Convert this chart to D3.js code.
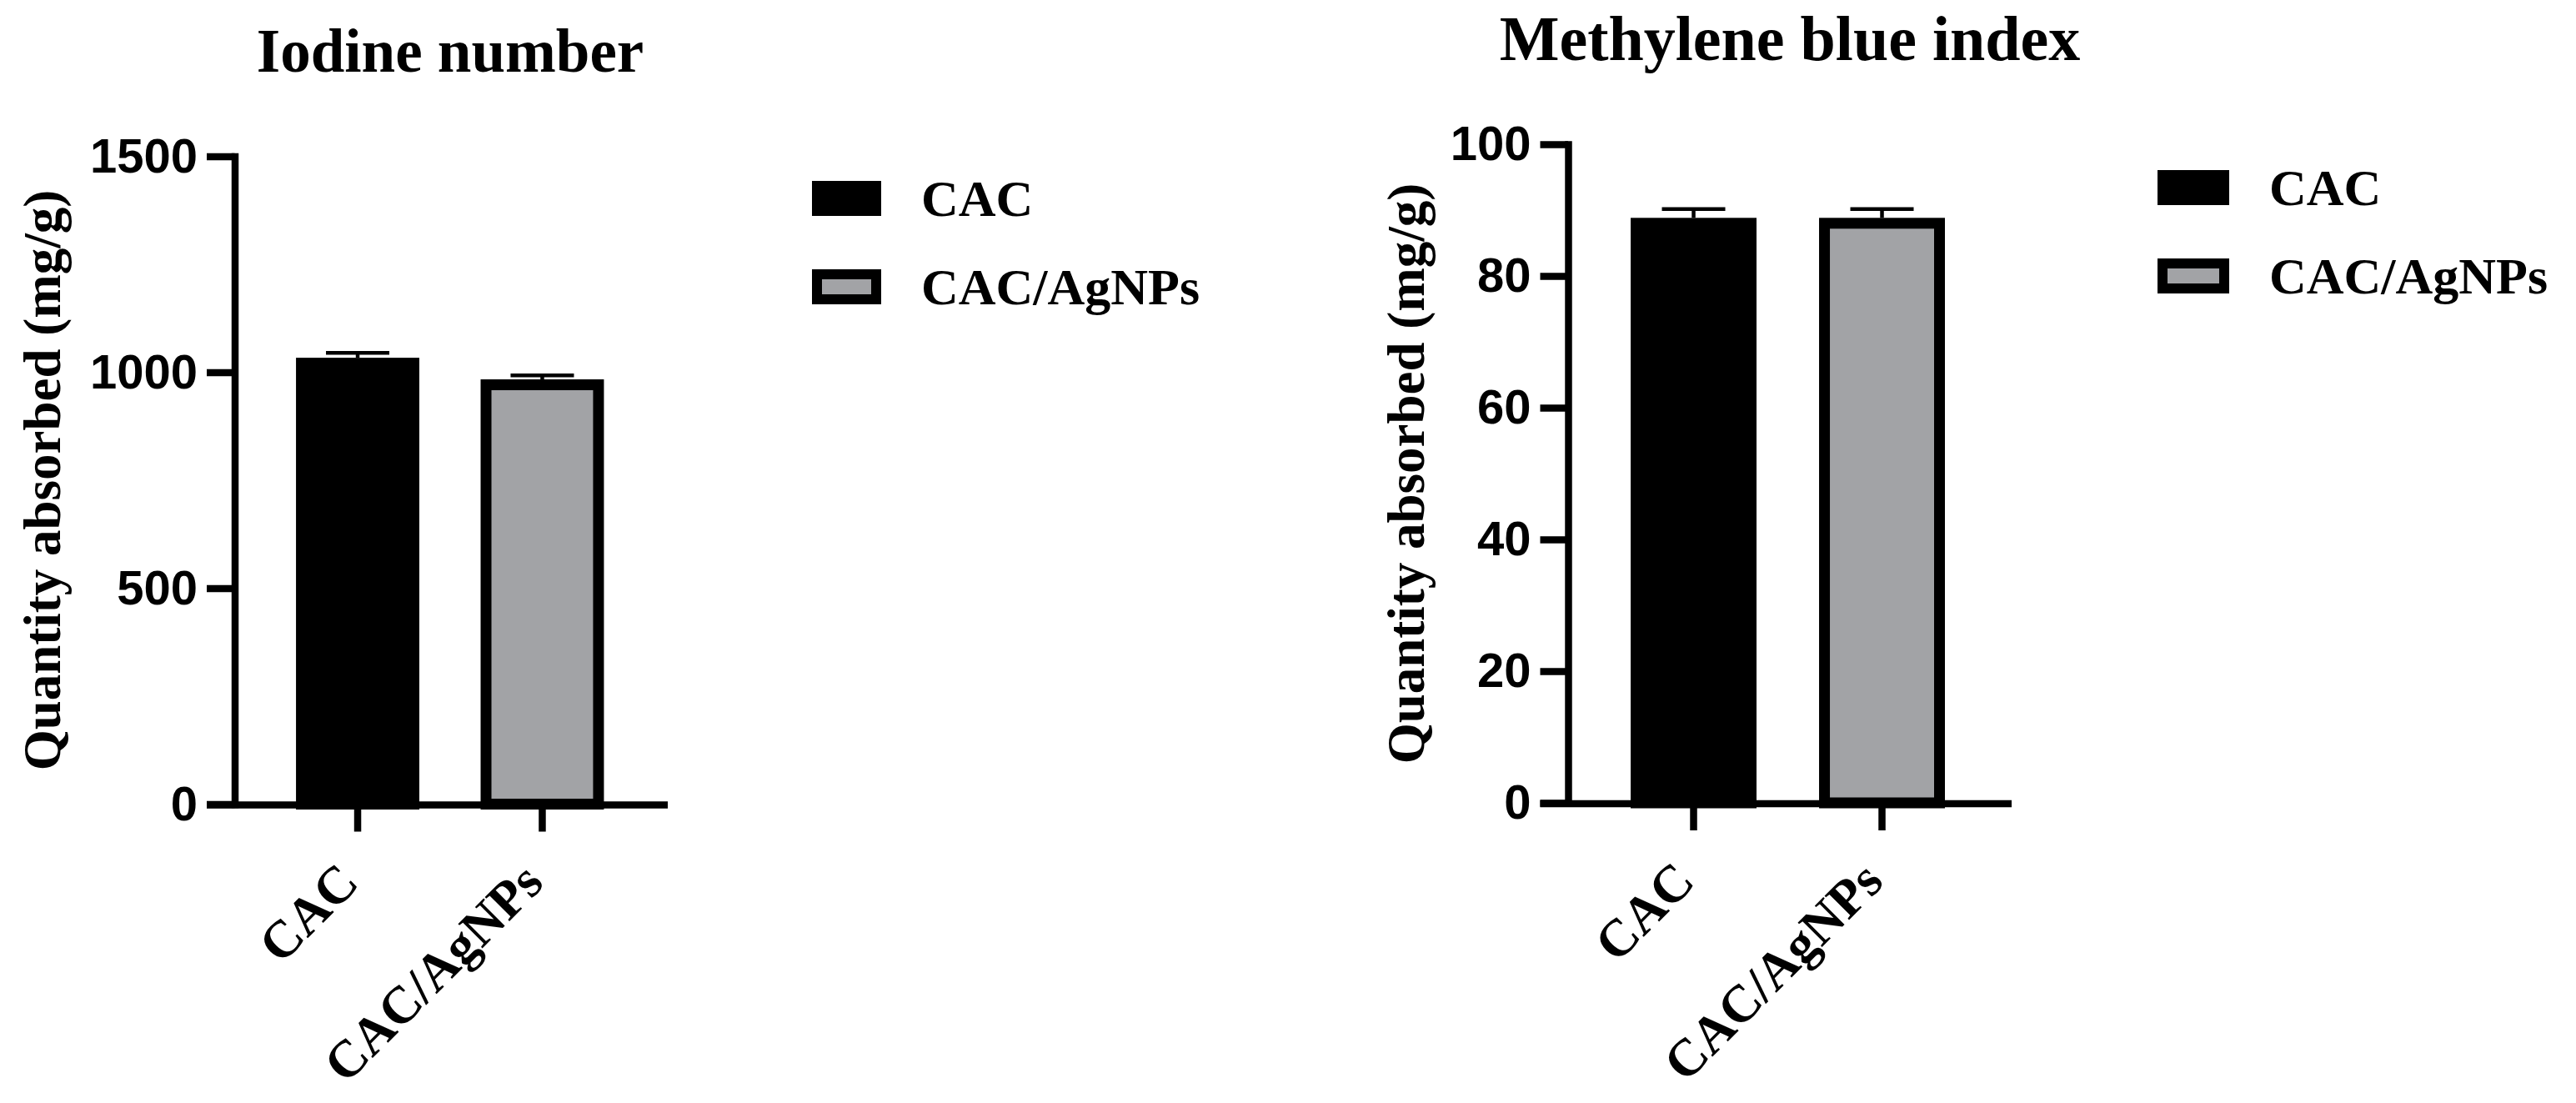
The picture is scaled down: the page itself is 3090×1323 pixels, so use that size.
<!DOCTYPE html>
<html>
<head>
<meta charset="utf-8">
<script src="https://cdn.jsdelivr.net/npm/d3@7"></script>
<style>
  body { margin: 0; background: #fff; }
</style>
</head>
<body>
<div id="chart"></div>
<script>
// data
const groups = ["CAC", "CAC/AgNPs"];
const iodineMeans = [1021, 971];
const iodineSD = [24, 22];
const mbMeans = [88.0, 88.0];
const mbSD = [2.15, 2.15];
const iodineTicks = [0, 500, 1000, 1500];
const mbTicks = [0, 20, 40, 60, 80, 100];
const fills = ["#000000", "#a2a3a6"];

const W = 3090, H = 1323;
const serif = "'Liberation Serif', 'Times New Roman', serif";
const sans = "'Liberation Sans', Arial, sans-serif";
const axisW = 8.5, barStroke = 13;

const svg = d3.select("#chart").append("svg")
    .attr("width", W)
    .attr("height", H)
    .attr("viewBox", `0 0 ${W} ${H}`);

function panel(o) {
    const g = svg.append("g");
    const y = d3.scaleLinear().domain([0, o.max]).range([o.y0, o.y1]);
    const x = d3.scaleBand()
        .domain(groups)
        .range([o.x0, o.x1])
        .paddingInner(0.332)
        .paddingOuter(o.po)
        .align(o.align);

    // bars
    g.selectAll(".bar")
        .data(o.means)
        .enter()
        .append("rect")
        .attr("class", "bar")
        .attr("x", (d, i) => x(groups[i]) + barStroke / 2)
        .attr("width", x.bandwidth() - barStroke)
        .attr("y", d => y(d))
        .attr("height", d => y(0) - y(d))
        .attr("fill", (d, i) => fills[i])
        .attr("stroke", "#000")
        .attr("stroke-width", barStroke);

    // error bars (upper only)
    const cx = i => x(groups[i]) + x.bandwidth() / 2;
    g.selectAll(".err")
        .data(o.means)
        .enter()
        .append("line")
        .attr("class", "err")
        .attr("x1", (d, i) => cx(i)).attr("x2", (d, i) => cx(i))
        .attr("y1", d => y(d) - barStroke / 2)
        .attr("y2", (d, i) => y(d + o.sd[i]))
        .attr("stroke", "#000").attr("stroke-width", 4.5);
    g.selectAll(".cap")
        .data(o.means)
        .enter()
        .append("line")
        .attr("class", "cap")
        .attr("x1", (d, i) => cx(i) - 38).attr("x2", (d, i) => cx(i) + 38)
        .attr("y1", (d, i) => y(d + o.sd[i]))
        .attr("y2", (d, i) => y(d + o.sd[i]))
        .attr("stroke", "#000").attr("stroke-width", 4.5);

    // y axis
    const ya = g.append("g")
        .attr("transform", `translate(${o.x0},0)`)
        .call(d3.axisLeft(y)
            .tickValues(o.ticks)
            .tickFormat(d3.format("d"))
            .tickSize(33.5)
            .tickSizeOuter(0)
            .tickPadding(11));
    ya.select(".domain").attr("stroke-width", axisW).attr("stroke-linecap", "square");
    ya.selectAll(".tick line").attr("stroke-width", axisW);
    ya.selectAll(".tick text")
        .attr("font-family", sans)
        .attr("font-weight", "bold")
        .attr("font-size", 58)
        .attr("fill", "#000");

    // x axis
    g.append("line")
        .attr("x1", o.x0 - 33.5).attr("x2", o.x1)
        .attr("y1", y(0) + 1).attr("y2", y(0) + 1)
        .attr("stroke", "#000").attr("stroke-width", axisW);
    const xa = g.append("g")
        .attr("transform", `translate(0,${y(0) + 1})`)
        .call(d3.axisBottom(x).tickSize(32).tickSizeOuter(0));
    xa.select(".domain").remove();
    xa.selectAll(".tick line").attr("stroke-width", axisW);
    xa.selectAll(".tick text")
        .attr("x", 0).attr("y", 0).attr("dy", 0)
        .attr("transform", "translate(4,96) rotate(-45)")
        .attr("text-anchor", "end")
        .attr("font-family", serif)
        .attr("font-weight", "bold")
        .attr("font-size", 63)
        .attr("fill", "#000");

    // title
    g.append("text")
        .attr("x", o.titleX).attr("y", o.titleY)
        .attr("text-anchor", "middle")
        .attr("font-family", serif).attr("font-weight", "bold").attr("font-size", o.titleSize)
        .text(o.title);

    // y title
    g.append("text")
        .attr("transform", `translate(${o.ytX},${(o.y0 + o.y1) / 2}) rotate(-90)`)
        .attr("text-anchor", "middle")
        .attr("font-family", serif).attr("font-weight", "bold").attr("font-size", 63)
        .text("Quantity absorbed (mg/g)");

    // legend
    const lg = g.append("g").attr("transform", `translate(${o.legX},${o.legY})`);
    const items = lg.selectAll(".item")
        .data(groups)
        .enter()
        .append("g")
        .attr("transform", (d, i) => `translate(0,${i * 106})`);
    items.append("rect")
        .attr("x", 6).attr("y", 6)
        .attr("width", o.swW - 12).attr("height", 30)
        .attr("fill", (d, i) => fills[i])
        .attr("stroke", "#000").attr("stroke-width", 12);
    items.append("text")
        .attr("x", o.swW + 48).attr("y", 42)
        .attr("font-family", serif).attr("font-weight", "bold").attr("font-size", 62)
        .text(d => d);
}

panel({
    title: "Iodine number", titleX: 540, titleY: 86, titleSize: 73,
    means: iodineMeans, sd: iodineSD, ticks: iodineTicks, max: 1500,
    x0: 281.5, x1: 801, po: 0.339, align: 0.49, y0: 964.5, y1: 187.5,
    ytX: 72, legX: 974, legY: 217, swW: 83
});

panel({
    title: "Methylene blue index", titleX: 2147, titleY: 72, titleSize: 76,
    means: mbMeans, sd: mbSD, ticks: mbTicks, max: 100,
    x0: 1881, x1: 2413, po: 0.343, align: 0.484, y0: 963, y1: 173,
    ytX: 1708, legX: 2588, legY: 204, swW: 86
});
</script>
</body>
</html>
